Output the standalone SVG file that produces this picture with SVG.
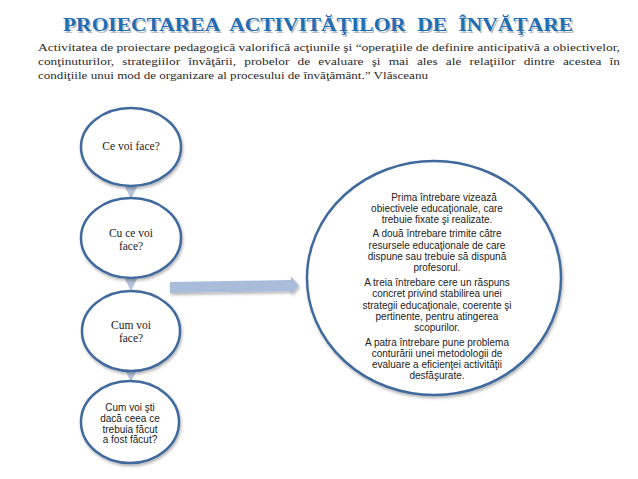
<svg xmlns="http://www.w3.org/2000/svg" width="638" height="479" viewBox="0 0 638 479">
<defs>
<style>
.title{font-family:"Liberation Serif","DejaVu Serif",serif;font-weight:bold;font-size:18px;word-spacing:5px;}
.para{font-family:"Liberation Serif","DejaVu Serif",serif;font-size:11px;fill:#2a2a2a;}
.node{fill:#ffffff;stroke:#41699c;stroke-width:2.5;}
.ser{font-family:"Liberation Serif","DejaVu Serif",serif;font-size:11.5px;fill:#222;text-anchor:middle;}
.san{font-family:"Liberation Sans","DejaVu Sans",sans-serif;font-size:10px;fill:#222;text-anchor:middle;}
.conn{stroke:#b4c4dc;stroke-width:3;fill:none;}
</style>
<marker id="ah" markerWidth="4" markerHeight="4" refX="2" refY="2" orient="auto" markerUnits="strokeWidth">
<path d="M0,0 L4,2 L0,4 z" fill="#b4c4dc"/>
</marker>
<filter id="sh" x="-10%" y="-10%" width="120%" height="130%">
<feGaussianBlur in="SourceAlpha" stdDeviation="1.5"/>
<feOffset dx="1" dy="2" result="b"/>
<feComponentTransfer><feFuncA type="linear" slope="0.3"/></feComponentTransfer>
<feMerge><feMergeNode/><feMergeNode in="SourceGraphic"/></feMerge>
</filter>
</defs>
<rect width="638" height="479" fill="#ffffff"/>

<g id="title">
<text class="title" x="64.5" y="32.5" fill="#9aa3ad" opacity="0.7" textLength="510" lengthAdjust="spacingAndGlyphs">PROIECTAREA ACTIVITĂŢILOR DE ÎNVĂŢARE</text>
<text class="title" x="63" y="31" fill="#1f6db4" textLength="510" lengthAdjust="spacingAndGlyphs">PROIECTAREA ACTIVITĂŢILOR DE ÎNVĂŢARE</text>
</g>

<g id="paragraph">
<text class="para" x="38" y="51" textLength="582" lengthAdjust="spacingAndGlyphs">Activitatea de proiectare pedagogică valorifică acţiunile şi “operaţiile de definire anticipativă a obiectivelor,</text>
<text class="para" x="38" y="65" textLength="582" lengthAdjust="spacingAndGlyphs" word-spacing="4">conţinuturilor, strategiilor învăţării, probelor de evaluare şi mai ales ale relaţiilor dintre acestea în</text>
<text class="para" x="38" y="79" textLength="390" lengthAdjust="spacingAndGlyphs">condiţiile unui mod de organizare al procesului de învăţământ.” Vlăsceanu</text>
</g>

<g id="connectors">
<line class="conn" x1="131" y1="186" x2="131" y2="193" marker-end="url(#ah)"/>
<line class="conn" x1="131" y1="278" x2="131" y2="285" marker-end="url(#ah)"/>
<line class="conn" x1="131" y1="371" x2="131" y2="376" marker-end="url(#ah)"/>
<polygon points="170,282 291,280 291,276.5 299,285.5 291,294.5 291,291 170,293" fill="#a9bcda" filter="url(#sh)"/>
</g>

<g id="n1">
<ellipse class="node" cx="131" cy="147" rx="50" ry="39" filter="url(#sh)"/>
<text class="ser" x="131" y="150">Ce voi face?</text>
</g>
<g id="n2">
<ellipse class="node" cx="131" cy="238" rx="50" ry="40" filter="url(#sh)"/>
<text class="ser" x="131" y="236.5">Cu ce voi</text>
<text class="ser" x="131" y="249.5">face?</text>
</g>
<g id="n3">
<ellipse class="node" cx="131" cy="331" rx="49" ry="40" filter="url(#sh)"/>
<text class="ser" x="131" y="328.5">Cum voi</text>
<text class="ser" x="131" y="341.5">face?</text>
</g>
<g id="n4">
<ellipse class="node" cx="130" cy="422" rx="49" ry="41" filter="url(#sh)"/>
<text class="san" x="130" y="411">Cum voi şti</text>
<text class="san" x="130" y="422">dacă ceea ce</text>
<text class="san" x="130" y="432.5">trebuia făcut</text>
<text class="san" x="130" y="443">a fost făcut?</text>
</g>

<g id="n5">
<ellipse class="node" cx="434" cy="278" rx="127" ry="117" filter="url(#sh)"/>
<text class="san" x="444" y="200.5">Prima întrebare vizează</text>
<text class="san" x="437" y="211.5">obiectivele educaţionale, care</text>
<text class="san" x="437" y="223">trebuie fixate şi realizate.</text>
<text class="san" x="437" y="237">A două întrebare trimite către</text>
<text class="san" x="437" y="248.5">resursele educaţionale de care</text>
<text class="san" x="437" y="259.5">dispune sau trebuie să dispună</text>
<text class="san" x="437" y="271">profesorul.</text>
<text class="san" x="437" y="286">A treia întrebare cere un răspuns</text>
<text class="san" x="437" y="297">concret privind stabilirea unei</text>
<text class="san" x="437" y="308.5">strategii educaţionale, coerente şi</text>
<text class="san" x="437" y="319.5">pertinente, pentru atingerea</text>
<text class="san" x="437" y="331">scopurilor.</text>
<text class="san" x="437" y="346">A patra întrebare pune problema</text>
<text class="san" x="437" y="357">conturării unei metodologii de</text>
<text class="san" x="437" y="368">evaluare a eficienţei activităţii</text>
<text class="san" x="437" y="379">desfăşurate.</text>
</g>
</svg>
